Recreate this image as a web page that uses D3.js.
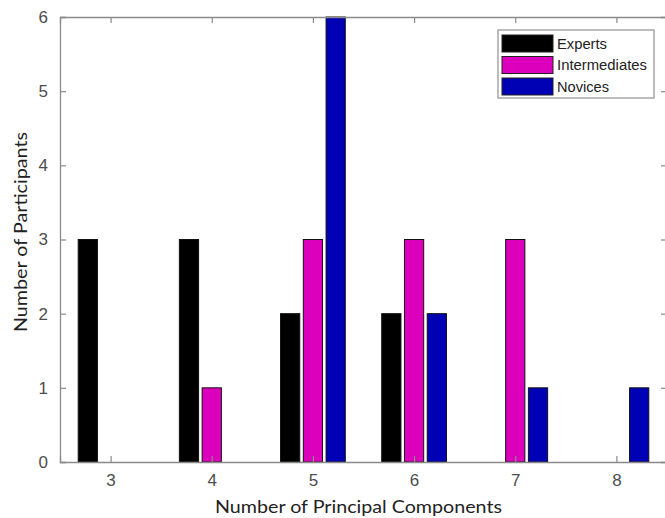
<!DOCTYPE html>
<html>
<head>
<meta charset="utf-8">
<script src="https://cdn.jsdelivr.net/npm/d3@7"></script>
<style>
  body { margin: 0; background: #fff; }
  svg { display: block; }
</style>
</head>
<body>
<svg width="665" height="518"></svg>
<script>
// data
const components = [3, 4, 5, 6, 7, 8];
const experts = [3, 3, 2, 2, 0, 0];
const intermediates = [0, 1, 3, 3, 3, 0];
const novices = [0, 0, 6, 2, 1, 1];
const seriesNames = ["Experts", "Intermediates", "Novices"];
const seriesColors = ["#000000", "#dc00bc", "#0000b4"];
const yTicks = [0, 1, 2, 3, 4, 5, 6];

const series = [experts, intermediates, novices];

const svg = d3.select("svg");
const plotLeft = 60, plotRight = 667, plotTop = 17, plotBottom = 462;

const xScale = d3.scaleLinear().domain([2.5, 8.5]).range([plotLeft, plotRight]);
const yScale = d3.scaleLinear().domain([0, 6]).range([plotBottom, plotTop]);

const unit = xScale(1) - xScale(0);
const offset = 0.225 * unit;
const barWidth = 0.19 * unit;

const axisColor = "#8a8a8a";
const labelColor = "#4d4d4d";

// bars
series.forEach((vals, s) => {
    svg.append("g")
        .selectAll("rect")
        .data(vals.map((v, i) => ({ x: components[i], v: v })).filter(d => d.v > 0))
        .join("rect")
        .attr("x", d => xScale(d.x) + (s - 1) * offset - barWidth / 2)
        .attr("y", d => yScale(d.v))
        .attr("width", barWidth)
        .attr("height", d => yScale(0) - yScale(d.v))
        .attr("fill", seriesColors[s])
        .attr("stroke", "#111")
        .attr("stroke-width", 1);
});

// axes, ticks inward like matlab
const xAxis = svg.append("g")
    .attr("transform", `translate(0,${plotBottom})`)
    .call(d3.axisBottom(xScale).tickValues(components).tickSize(-6).tickPadding(14).tickFormat(d3.format("d")));

const xAxisTop = svg.append("g")
    .attr("transform", `translate(0,${plotTop})`)
    .call(d3.axisTop(xScale).tickValues(components).tickSize(-6).tickFormat(""));

const yAxis = svg.append("g")
    .attr("transform", `translate(${plotLeft},0)`)
    .call(d3.axisLeft(yScale).tickValues(yTicks).tickSize(-6).tickPadding(12).tickFormat(d3.format("d")));

const yAxisRight = svg.append("g")
    .attr("transform", `translate(${plotRight},0)`)
    .call(d3.axisRight(yScale).tickValues(yTicks).tickSize(-6).tickFormat(""));

[xAxis, xAxisTop, yAxis, yAxisRight].forEach(a => {
    a.select(".domain").attr("stroke", axisColor).attr("stroke-width", 1.3);
    a.selectAll(".tick line").attr("stroke", axisColor).attr("stroke-width", 1.2);
    a.selectAll(".tick text")
        .attr("fill", labelColor)
        .style("font-family", "'Liberation Sans', Arial, sans-serif")
        .style("font-size", "17px");
});
xAxis.selectAll(".tick text").attr("dy", "0.6em");

// axis titles
svg.append("text")
    .attr("x", 215)
    .attr("y", 513)
    .attr("textLength", 287)
    .attr("lengthAdjust", "spacingAndGlyphs")
    .attr("fill", "#222")
    .style("font-family", "Lato, 'Open Sans', sans-serif")
    .style("font-size", "18px")
    .text("Number of Principal Components");

svg.append("text")
    .attr("transform", "translate(27,332) rotate(-90)")
    .attr("textLength", 200)
    .attr("lengthAdjust", "spacingAndGlyphs")
    .attr("fill", "#222")
    .style("font-family", "Lato, 'Open Sans', sans-serif")
    .style("font-size", "18px")
    .text("Number of Participants");

// legend
const legend = svg.append("g");
legend.append("rect")
    .attr("x", 498).attr("y", 30)
    .attr("width", 156).attr("height", 68)
    .attr("fill", "#fff")
    .attr("stroke", "#999")
    .attr("stroke-width", 1.3);

const legendWidths = [50, 90, 52];
seriesNames.forEach((name, i) => {
    const cy = 43.5 + i * 21.5;
    legend.append("rect")
        .attr("x", 502).attr("y", cy - 8.5)
        .attr("width", 51).attr("height", 17)
        .attr("fill", seriesColors[i])
        .attr("stroke", "#222")
        .attr("stroke-width", 1);
    legend.append("text")
        .attr("x", 557)
        .attr("y", cy + 5)
        .attr("textLength", legendWidths[i])
        .attr("lengthAdjust", "spacingAndGlyphs")
        .attr("fill", "#222")
        .style("font-family", "'Liberation Sans', Arial, sans-serif")
        .style("font-size", "14px")
        .text(name);
});
</script>
</body>
</html>
